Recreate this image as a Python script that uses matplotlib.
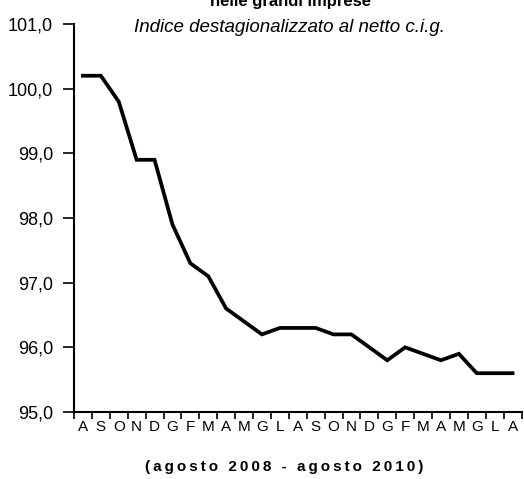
import matplotlib

matplotlib.use("Agg")
import matplotlib.pyplot as plt
import numpy as np

months = ["A", "S", "O", "N", "D", "G", "F", "M", "A", "M", "G", "L",
          "A", "S", "O", "N", "D", "G", "F", "M", "A", "M", "G", "L", "A"]
index_values = [100.2, 100.2, 99.8, 98.9, 98.9, 97.9, 97.3, 97.1, 96.6, 96.4, 96.2, 96.3,
                96.3, 96.3, 96.2, 96.2, 96.0, 95.8, 96.0, 95.9, 95.8, 95.9, 95.6, 95.6, 95.6]
y_ticks = [95.0, 96.0, 97.0, 98.0, 99.0, 100.0, 101.0]

ARIAL = ["Liberation Sans", "DejaVu Sans"]

W, H = 524, 479
fig = plt.figure(figsize=(W / 100, H / 100), dpi=100)
ax = fig.add_axes([74 / W, 1 - 412 / H, (521.5 - 74) / W, (412 - 24) / H])

x = np.arange(len(months))
ax.plot(x, index_values, color="black", linewidth=2.7, solid_joinstyle="miter")

ax.set_xlim(-0.5, len(months) - 0.5)
ax.set_ylim(95.0, 101.0)

ax.set_yticks(y_ticks)
ax.set_yticklabels([f"{v:.1f}".replace(".", ",") for v in y_ticks],
                   family=ARIAL, fontsize=13)
ax.tick_params(axis="y", direction="out", length=8, width=1.2, pad=7)

ax.set_xticks(np.arange(-0.5, len(months)), labels=[])
ax.tick_params(axis="x", which="major", direction="out", length=5, width=1.2)
ax.set_xticks(x, labels=months, minor=True)
ax.tick_params(axis="x", which="minor", length=0, pad=6)
for lab in ax.get_xticklabels(minor=True):
    lab.set_family(ARIAL)
    lab.set_fontsize(11)

for side in ("top", "right"):
    ax.spines[side].set_visible(False)
for side in ("left", "bottom"):
    ax.spines[side].set_linewidth(1.5)

fig.text(290 / W, 1 - 6 / H, "nelle grandi imprese", ha="center", va="baseline",
         family=ARIAL, fontsize=12, fontweight="bold")
fig.text(290 / W, 1 - 27 / H, "Indice destagionalizzato al netto c.i.g.",
         ha="center", va="center", family=ARIAL, fontsize=13.5, style="italic")
fig.text(284 / W, 1 - 467 / H, "\u2009".join("(agosto 2008 - agosto 2010)"),
         ha="center", va="center", family=ARIAL, fontsize=11, fontweight="bold")

fig.savefig("out.png", dpi=100)
